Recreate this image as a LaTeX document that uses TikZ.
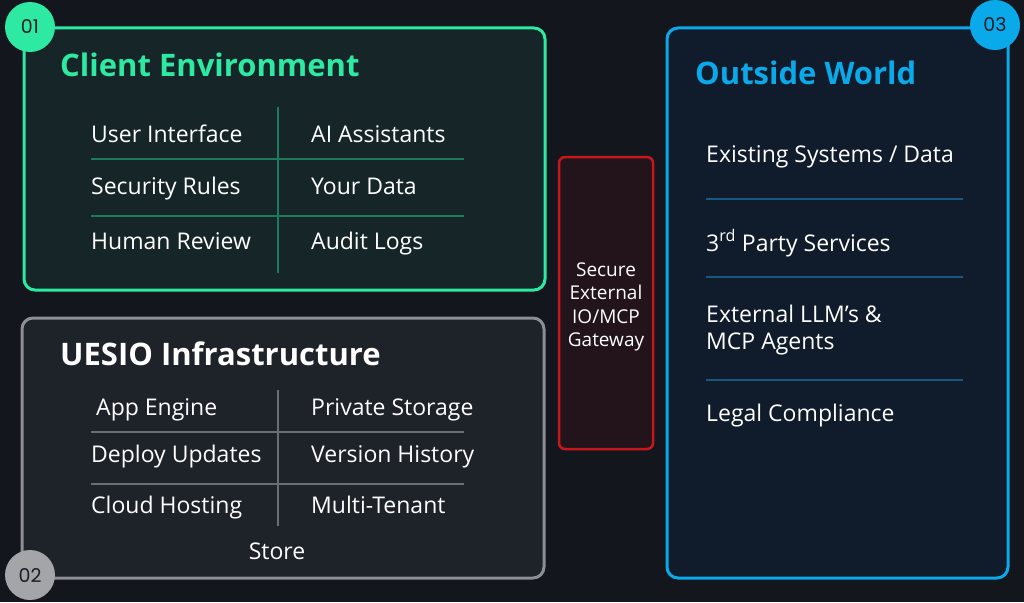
\documentclass[tikz,border=0pt]{standalone}
\usepackage{fontspec}
\setmainfont{Open Sans}
\newfontfamily\badgefont{Poppins}
\usetikzlibrary{positioning}
\definecolor{bg}{HTML}{13161D}
\definecolor{cgreen}{HTML}{2EE9A2}
\definecolor{cgreenfill}{HTML}{162628}
\definecolor{cgreenline}{HTML}{1F7A5C}
\definecolor{cgray}{HTML}{8C8F94}
\definecolor{cgrayfill}{HTML}{1E2229}
\definecolor{cgrayline}{HTML}{6A6D72}
\definecolor{cgraybadge}{HTML}{A3A5A9}
\definecolor{cred}{HTML}{C8161C}
\definecolor{credfill}{HTML}{22141A}
\definecolor{cblue}{HTML}{0AA9EA}
\definecolor{cbluefill}{HTML}{101B2B}
\definecolor{cblueline}{HTML}{16587E}
\definecolor{badgetext}{HTML}{1A1E26}
\tikzset{
  panel/.style={rounded corners=11pt, line width=3pt},
  badge/.style={circle, minimum size=50pt, inner sep=0pt, font=\badgefont\fontsize{19}{22}\selectfont, text=badgetext},
  ptitle/.style={anchor=base west, inner sep=0pt, font=\bfseries\fontsize{31}{35}\selectfont},
  item/.style={anchor=base west, inner sep=0pt, text=white, font=\fontsize{23}{27}\selectfont},
  gline/.style={line width=1.2pt},
}
\begin{document}
\begin{tikzpicture}[x=1pt,y=-1pt]
\useasboundingbox (0,0) rectangle (1024,602);
\fill[bg] (0,0) rectangle (1024,602);

% ---- Client Environment ----
\draw[panel, draw=cgreen, fill=cgreenfill] (24,28) rectangle (545,290);
\node[ptitle, text=cgreen] (t1) at (60,76) {Client Environment};
\coordinate (v1a) at (278,107); \coordinate (v1b) at (278,273);
\coordinate (h1a) at (91,159); \coordinate (h1b) at (464,159);
\coordinate (h2a) at (91,216); \coordinate (h2b) at (464,216);
\draw[gline, cgreenline] (v1a) -- (v1b);
\draw[gline, cgreenline] (h1a) -- (h1b);
\draw[gline, cgreenline] (h2a) -- (h2b);
\node[item] (c1) at (91,142) {User Interface};
\node[item] (c2) at (311,142) {AI Assistants};
\node[item] (c3) at (91,194) {Security Rules};
\node[item] (c4) at (311,194) {Your Data};
\node[item] (c5) at (91,249) {Human Review};
\node[item] (c6) at (311,249) {Audit Logs};
\node[badge, fill=cgreen] (b1) at (30,27) {01};

% ---- UESIO Infrastructure ----
\draw[panel, draw=cgray, fill=cgrayfill] (22,318) rectangle (544,578);
\node[ptitle, text=white] (t2) at (60,365) {UESIO Infrastructure};
\coordinate (v2a) at (278,390); \coordinate (v2b) at (278,526);
\coordinate (h3a) at (91,432); \coordinate (h3b) at (464,432);
\coordinate (h4a) at (91,484); \coordinate (h4b) at (464,484);
\draw[gline, cgrayline] (v2a) -- (v2b);
\draw[gline, cgrayline] (h3a) -- (h3b);
\draw[gline, cgrayline] (h4a) -- (h4b);
\node[item] (u1) at (96,415) {App Engine};
\node[item] (u2) at (311,415) {Private Storage};
\node[item] (u3) at (91,462) {Deploy Updates};
\node[item] (u4) at (311,462) {Version History};
\node[item] (u5) at (91,513) {Cloud Hosting};
\node[item] (u6) at (311,513) {Multi-Tenant};
\node[item, anchor=base] (u7) at (277,559) {Store};
\node[badge, fill=cgraybadge] (b2) at (30,575) {02};

% ---- Gateway ----
\draw[panel, rounded corners=6pt, line width=2.5pt, draw=cred, fill=credfill] (559,157) rectangle (653,449);
\node[align=center, text=white, font=\fontsize{19}{23.3}\selectfont, inner sep=0pt] (gw) at (606,307) {Secure\\External\\IO/MCP\\Gateway};

% ---- Outside World ----
\draw[panel, draw=cblue, fill=cbluefill] (667,28) rectangle (1008,578);
\node[ptitle, text=cblue] (t3) at (695,84) {Outside World};
\coordinate (h5a) at (706,199); \coordinate (h5b) at (963,199);
\coordinate (h6a) at (706,277); \coordinate (h6b) at (963,277);
\coordinate (h7a) at (706,380); \coordinate (h7b) at (963,380);
\draw[gline, cblueline] (h5a) -- (h5b);
\draw[gline, cblueline] (h6a) -- (h6b);
\draw[gline, cblueline] (h7a) -- (h7b);
\node[item] (o1) at (706,162) {Existing Systems / Data};
\node[item] (o2) at (706,251) {3\textsuperscript{rd} Party Services};
\node[item] (o3) at (706,322) {External LLM’s \&};
\node[item] (o3b) at (706,349) {MCP Agents};
\node[item] (o4) at (706,421) {Legal Compliance};
\node[badge, fill=cblue] (b3) at (995,25) {03};
\end{tikzpicture}
\end{document}
